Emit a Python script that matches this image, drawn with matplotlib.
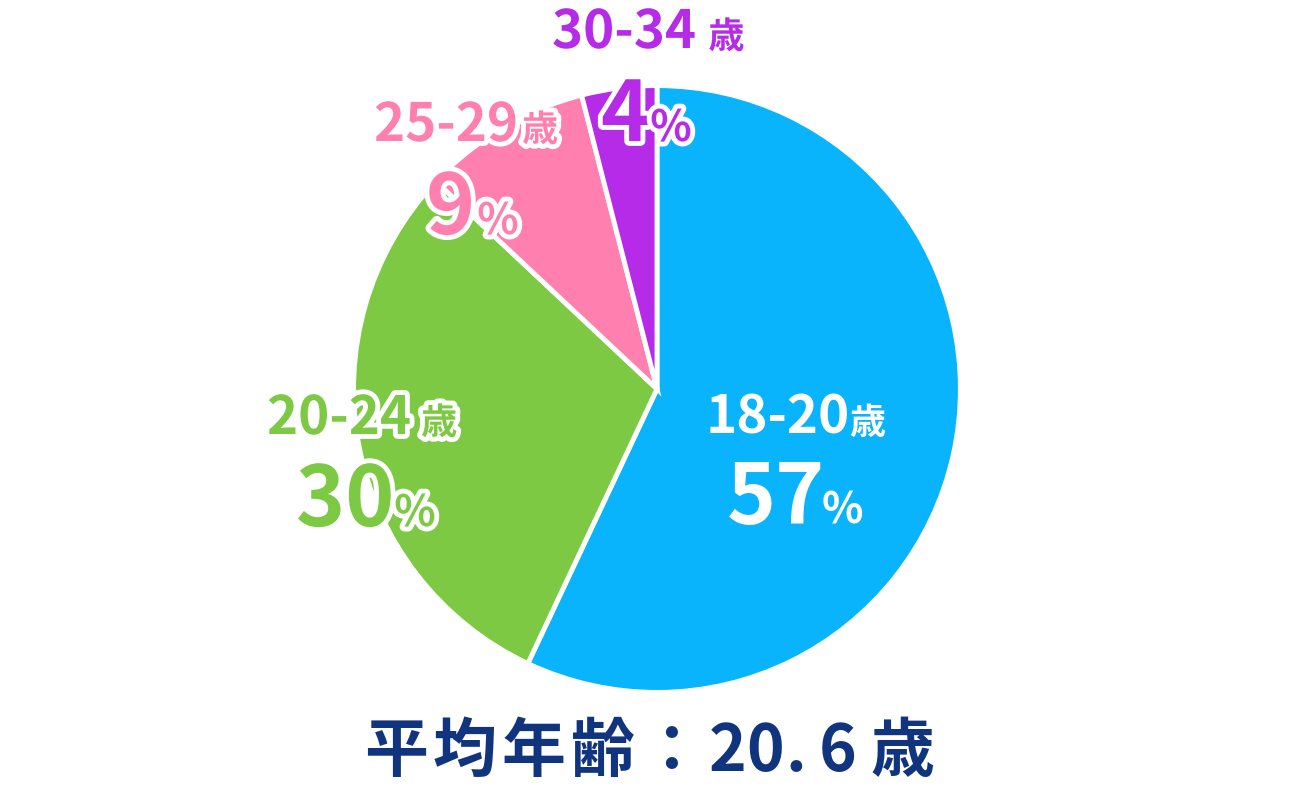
import matplotlib
matplotlib.use("Agg")
import matplotlib.pyplot as plt
import matplotlib.patheffects as pe

# ---- data ----
categories = ["18-20", "20-24", "25-29", "30-34"]
shares = [57, 30, 9, 4]
age_unit = "歳"
mean_label = "平均年齢："
mean_age = "20.6"

# ---- style ----
colors = ["#0AB4FC", "#7DC943", "#FF80AE", "#B52BE8"]
label_colors = ["white", "#7DC943", "#FF80AE", "#B52BE8"]
navy = "#11347F"
FONT = ["Noto Sans CJK JP", "DejaVu Sans"]

W, H = 1314, 806
fig = plt.figure(figsize=(W / 100, H / 100), dpi=100)
ax = fig.add_axes([0, 0, 1, 1])
cx, cy, R = 657, 389, 301
ax.pie(shares, colors=colors, startangle=90, counterclock=False,
       radius=1.008, center=(0, 0),
       wedgeprops=dict(edgecolor="white", linewidth=3.5))
ax.set_xlim(-cx / R, (W - cx) / R)
ax.set_ylim((cy - H) / R, cy / R)
ax.set_aspect("equal")
ax.axis("off")

renderer = fig.canvas.get_renderer()


def pieces(x, y, parts, color, outline):
    """Draw text parts left to right starting at pixel (x, baseline y from top)."""
    for s, size, gap in parts:
        kw = {}
        if outline:
            kw["path_effects"] = [pe.withStroke(linewidth=7, foreground="white")]
        t = fig.text(x / W, 1 - y / H, s, ha="left", va="baseline",
                     fontsize=size, fontweight="bold", color=color,
                     family=FONT, **kw)
        bb = t.get_window_extent(renderer)
        x = bb.x1 + gap


# label layout: (line1 left, line1 baseline, unit gap, line2 left, line2 baseline, pct gap)
layout = [
    (706, 434, -1, 727, 524, -4),
    (267, 434, 10, 296, 526, 0),
    (374, 141, 4, 426, 234, 2),
    (552, 48, 12, 601, 141, 0),
]

for cat, val, col, (x1, y1, g1, x2, y2, g2), i in zip(
        categories, shares, label_colors, layout, range(4)):
    outline = i != 0
    pieces(x1, y1, [(cat, 38, g1), (age_unit, 26, 0)], col, outline)
    pieces(x2, y2, [(str(val), 60, g2), ("%", 31, 0)], col, outline)

# bottom summary text with letter spacing
summary = mean_label + mean_age + age_unit
gaps = {"2": 0, "0": 2, ".": 12, "6": 14}
x = 364
for ch in summary:
    t = fig.text(x / W, 1 - 771 / H, ch, ha="left", va="baseline",
                 fontsize=46, fontweight="bold", color=navy, family=FONT)
    bb = t.get_window_extent(renderer)
    x = bb.x1 + gaps.get(ch, 5)

fig.savefig("out.png", dpi=100)
